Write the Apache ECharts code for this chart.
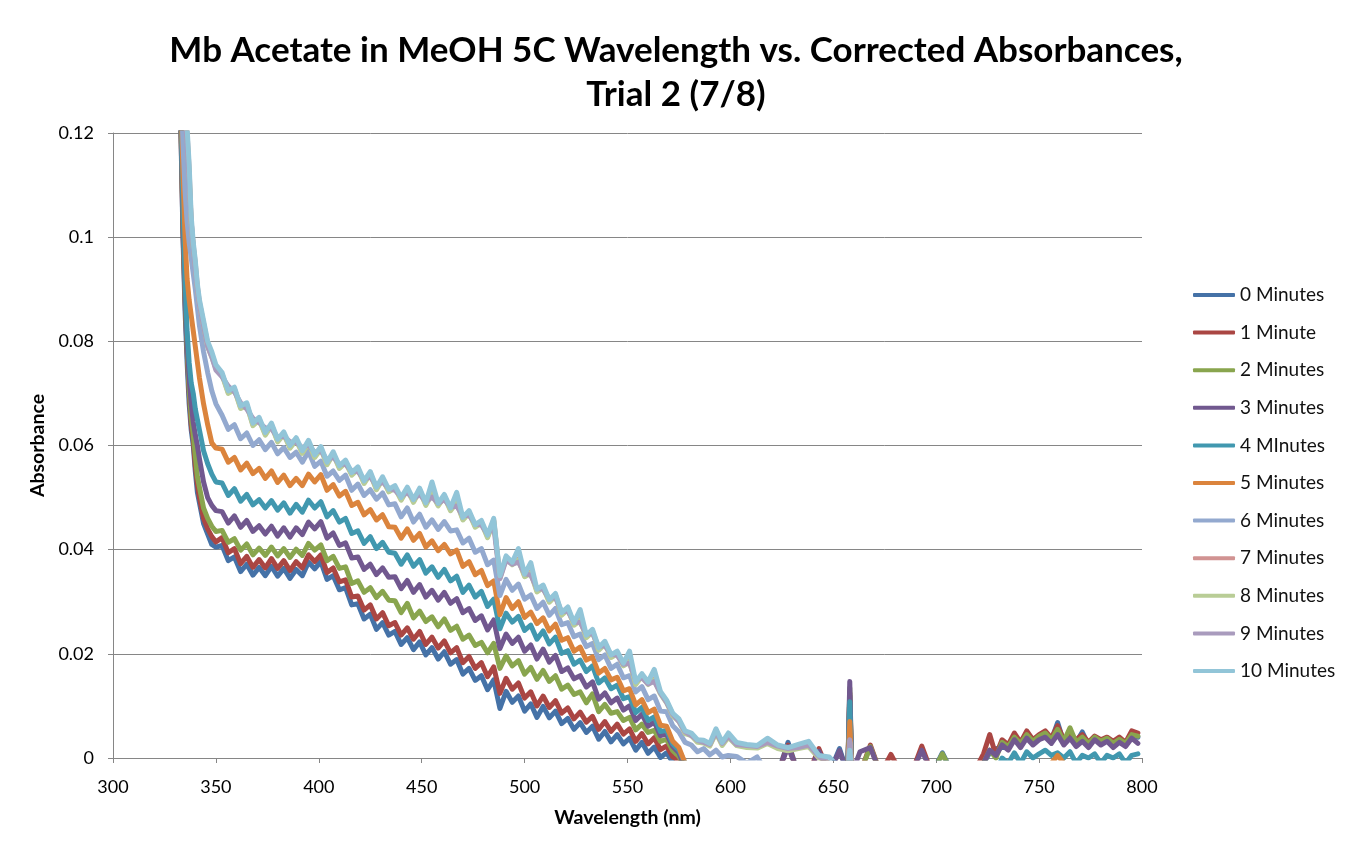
<!DOCTYPE html>
<html><head><meta charset="utf-8">
<script src="https://cdn.jsdelivr.net/npm/echarts@6/dist/echarts.min.js"></script>
<style>html,body{margin:0;padding:0;background:#fff}#c{width:1352px;height:855px}</style>
</head><body><div id="c"></div>
<script>
const titleText = 'Mb Acetate in MeOH 5C Wavelength vs. Corrected Absorbances,\nTrial 2 (7/8)';
const xName = 'Wavelength (nm)';
const yName = 'Absorbance';
const seriesNames = ['0 Minutes','1 Minute','2 Minutes','3 Minutes','4 MInutes','5 Minutes','6 Minutes','7 Minutes','8 Minutes','9 Minutes','10 Minutes'];
const colors = ['#4572A7','#AA4643','#89A54E','#71588F','#4198AF','#DB843D','#93A9CF','#D19392','#B9CD96','#A99BBD','#92C5D8'];

const wl = [332,333,334,335,336,337,338,339,340,341,342,344,346,348,350,
353,356,359,362,365,368,371,374,377,380,383,386,389,392,395,398,
401,404,407,410,413,416,419,422,425,428,431,434,437,440,443,446,449,
452,455,458,461,464,467,470,473,476,479,482,485,488,491,494,497,500,
503,506,509,512,515,518,521,524,527,530,533,536,539,542,545,548,551,
554,557,560,563,566,569,572,575,578,581,584,587,590,593,596,599,
603,608,613,618,623,628,633,638,643,648,653,657,658,659,
663,668,673,678,683,688,693,698,703,708,713,718,
723,726,729,732,735,738,741,744,747,750,753,756,759,762,765,768,771,774,777,780,783,786,789,792,795,798];

const s0 = [.135,.120,.100,.086,.076,.068,.063,.060,.055,.051,.049,.045,.043,.041,.0405,
.0408,.0379,.0386,.0358,.0372,.0351,.0366,.0350,.0368,.0349,.0364,.0345,.0362,.0350,.0376,.0363,
.0377,.0343,.0350,.0323,.0327,.0294,.0296,.0267,.0276,.0247,.0260,.0236,.0243,.0218,.0231,.0208,.0223,
.0198,.0212,.0190,.0204,.0180,.0189,.0161,.0172,.0149,.0158,.0131,.0150,.0095,.0128,.0107,.0119,.0090,
.0104,.0078,.0099,.0077,.0090,.0066,.0076,.0055,.0068,.0049,.0061,.0036,.0051,.0031,.0045,.0027,.0038,
.0015,.0030,.0009,.0021,.0001,.0010,-.0008,-.002,-.003,-.003,-.003,-.003,-.003,-.003,-.003,-.003,
-.003,-.003,-.003,-.003,-.003,.003,-.003,-.003,-.003,-.003,.0018,-.003,.012,-.003,
-.003,-.003,-.003,-.003,-.003,-.003,-.003,-.003,.001,-.003,-.003,-.003,
-.001,.001,.0018,.002,.002,.0038,.0025,.005,.003,.004,.005,.0035,.0068,.003,.004,.003,.005,.0025,.004,.003,.0035,.003,.0035,.0025,.0045,.004];

const s1 = [.135,.121,.101,.088,.078,.070,.064,.061,.056,.0525,.050,.046,.044,.0425,.0415,
.0423,.0394,.0402,.0373,.0387,.0366,.0381,.0365,.0383,.0364,.0379,.0360,.0377,.0365,.0390,.0377,
.0390,.0356,.0365,.0338,.0342,.0309,.0311,.0284,.0294,.0267,.0279,.0254,.0260,.0236,.0250,.0228,.0243,
.0218,.0232,.0211,.0225,.0202,.0212,.0183,.0195,.0172,.0183,.0156,.0175,.0124,.0153,.0132,.0144,.0115,
.0127,.0100,.0119,.0097,.0110,.0086,.0096,.0075,.0088,.0069,.0080,.0055,.0070,.0051,.0065,.0046,.0056,
.0032,.0047,.0027,.0039,.0016,.0023,.0002,-.0005,-.002,-.003,-.003,-.003,-.003,-.003,-.003,-.003,
-.003,-.003,-.003,-.003,-.003,.0025,-.003,-.003,.0018,-.003,-.003,-.003,.0125,-.003,
-.003,.0025,-.003,.0007,-.003,-.003,.0023,-.003,-.003,-.003,-.003,-.003,
.0008,.0045,.0005,.0035,.0025,.0048,.003,.0052,.0035,.0045,.0052,.0038,.0062,.0035,.0045,.0035,.0045,.003,.0042,.0035,.004,.0032,.004,.003,.0052,.0048];

const s2 = [.136,.122,.103,.089,.079,.071,.0655,.062,.058,.054,.052,.048,.046,.0445,.0435,
.0437,.0414,.0421,.0399,.0411,.0390,.0403,.0389,.0405,.0388,.0402,.0385,.0401,.0389,.0412,.0399,
.0409,.0379,.0387,.0364,.0367,.0335,.0340,.0318,.0327,.0308,.0320,.0303,.0302,.0279,.0297,.0269,.0282,
.0262,.0271,.0252,.0267,.0245,.0253,.0228,.0236,.0216,.0222,.0202,.0220,.0172,.0196,.0177,.0187,.0161,
.0174,.0151,.0168,.0147,.0158,.0132,.0140,.0122,.0127,.0106,.0123,.0089,.0103,.0086,.0089,.0072,.0078,
.0054,.0065,.0049,.0053,.0032,.0036,.0014,.0003,-.002,-.003,-.003,-.003,-.003,-.003,-.003,-.003,
-.003,-.003,-.003,-.003,-.003,-.003,-.003,-.003,-.003,-.003,-.003,-.003,.0135,-.003,
-.003,.0022,-.003,-.003,-.003,-.003,-.003,-.003,.0008,-.003,-.003,-.003,
-.001,.0015,0,.003,.0022,.004,.0028,.0045,.0032,.0042,.0048,.0035,.0055,.0032,.0058,.003,.004,.0028,.004,.0032,.0038,.0028,.0036,.0028,.0045,.0042];

const s3 = [.137,.123,.104,.090,.080,.073,.068,.0645,.062,.060,.0575,.053,.050,.0485,.0475,
.0473,.0451,.0465,.0443,.0456,.0435,.0446,.0430,.0445,.0426,.0442,.0424,.0442,.0429,.0453,.0440,
.0454,.0422,.0432,.0408,.0413,.0384,.0386,.0362,.0372,.0352,.0365,.0347,.0348,.0325,.0341,.0318,.0333,
.0309,.0322,.0303,.0318,.0297,.0306,.0279,.0287,.0264,.0273,.0246,.0265,.0210,.0238,.0220,.0232,.0205,
.0217,.0190,.0209,.0184,.0197,.0166,.0173,.0152,.0158,.0136,.0146,.0113,.0125,.0106,.0115,.0092,.0100,
.0072,.0084,.0061,.0069,.0043,.0046,.0022,.0010,-.002,-.003,-.003,-.003,-.003,-.003,-.003,-.003,
-.003,-.003,-.003,-.003,-.003,.0022,-.003,-.003,.0013,-.003,.0014,-.003,.0147,-.003,
.0012,.002,-.003,-.003,-.003,-.003,.0015,-.003,-.003,-.003,-.003,-.003,
-.001,.0015,.0005,.0025,.0015,.0035,.002,.0038,.0025,.0035,.004,.0028,.0045,.0025,.0038,.0022,.0032,.002,.0035,.0025,.0032,.002,.003,.0022,.0038,.0028];

const s4 = [.138,.124,.106,.092,.082,.076,.072,.070,.067,.065,.063,.059,.0565,.0545,.053,
.0528,.0504,.0517,.0493,.0506,.0486,.0496,.0480,.0494,.0476,.0490,.0470,.0487,.0472,.0495,.0480,
.0492,.0463,.0475,.0453,.0460,.0431,.0436,.0412,.0425,.0402,.0414,.0395,.0393,.0372,.0390,.0368,.0381,
.0355,.0367,.0347,.0362,.0340,.0349,.0318,.0332,.0309,.0320,.0291,.0305,.0248,.0278,.0261,.0272,.0245,
.0255,.0228,.0244,.0219,.0232,.0201,.0206,.0180,.0188,.0166,.0177,.0144,.0154,.0133,.0140,.0114,.0118,
.0087,.0097,.0072,.0079,.0051,.0053,.0027,.0015,-.001,-.003,-.003,-.003,-.003,-.003,-.003,-.003,
-.003,-.003,-.003,-.003,-.003,-.003,-.003,-.003,-.003,-.003,-.003,-.003,.0108,-.003,
-.003,-.003,-.003,-.003,-.003,-.003,-.003,-.003,-.003,-.003,-.003,-.003,
-.003,-.003,-.003,0,-.001,.001,-.001,.0012,0,.0008,.0015,.0005,.001,0,.0012,-.001,.0005,0,.0008,-.001,.0005,0,.0008,-.001,.0005,.0008];

const s5 = [.140,.127,.112,.100,.092,.088,.085,.082,.079,.076,.073,.068,.064,.0605,.0595,
.0593,.0568,.0577,.0553,.0566,.0546,.0556,.0537,.0551,.0529,.0543,.0523,.0537,.0523,.0545,.0530,
.0544,.0514,.0525,.0503,.0512,.0485,.0491,.0467,.0477,.0457,.0467,.0444,.0443,.0422,.0440,.0418,.0431,
.0405,.0417,.0398,.0410,.0392,.0399,.0368,.0377,.0352,.0360,.0331,.0340,.0275,.0308,.0287,.0300,.0270,
.0280,.0258,.0269,.0244,.0257,.0226,.0231,.0205,.0213,.0188,.0194,.0163,.0172,.0150,.0155,.0129,.0133,
.0102,.0112,.0087,.0094,.0063,.0061,.0032,.0020,-.001,-.003,-.003,-.003,-.003,-.003,-.003,-.003,
-.003,-.003,-.003,-.003,-.003,-.003,-.003,-.003,-.003,-.003,-.003,-.003,.007,-.003,
-.003,-.003,-.003,-.003,-.003,-.003,-.003,-.003,-.003,-.003,-.003,-.003,
-.003,-.003,-.003,-.003,-.003,-.003,-.003,-.003,-.003,-.003,-.003,-.001,.0005,-.001,-.003,-.003,-.003,-.003,-.003,-.003,-.003,-.003,-.003,-.003,-.003,-.003];

const s6 = [.142,.130,.118,.109,.103,.099,.096,.093,.090,.0865,.083,.078,.074,.0705,.068,
.0658,.0631,.0640,.0613,.0624,.0600,.0611,.0592,.0606,.0584,.0596,.0577,.0587,.0568,.0589,.0560,
.0570,.0541,.0551,.0533,.0543,.0514,.0526,.0504,.0515,.0497,.0509,.0486,.0488,.0463,.0480,.0453,.0468,
.0443,.0457,.0439,.0454,.0436,.0438,.0413,.0422,.0395,.0402,.0371,.0380,.0312,.0343,.0322,.0334,.0305,
.0313,.0287,.0299,.0274,.0287,.0256,.0260,.0233,.0238,.0214,.0220,.0189,.0198,.0172,.0180,.0154,.0158,
.0127,.0137,.0112,.0119,.0090,.0089,.0062,.0050,.0030,.0025,.0012,.0018,.0006,.0015,.0002,.0005,
.0003,-.001,.0002,-.003,-.003,-.003,-.003,-.003,-.003,-.003,-.003,-.003,.003,-.003,
-.003,-.003,-.003,-.003,-.003,-.003,-.003,-.003,-.003,-.003,-.003,-.003,
-.003,-.003,-.003,-.003,-.003,-.003,-.003,-.003,-.003,-.003,-.003,-.003,-.003,-.003,-.003,-.003,-.003,-.003,-.003,-.003,-.003,-.003,-.003,-.003,-.003,-.003];

const s7 = [.149,.139,.131,.125,.120,.113,.103,.0985,.095,.0905,.0875,.0835,.0795,.0775,.075,
.0737,.0702,.0709,.0673,.0679,.0640,.0651,.0622,.0640,.0609,.0623,.0597,.0612,.0587,.0607,.0579,
.0595,.0565,.0585,.0558,.0569,.0545,.0556,.0529,.0547,.0517,.0537,.0513,.0520,.0497,.0517,.0493,.0515,
.0487,.0509,.0486,.0503,.0477,.0492,.0459,.0472,.0445,.0453,.0425,.0457,.0347,.0385,.0373,.0382,.0350,
.0357,.0321,.0329,.0301,.0313,.0276,.0287,.0257,.0266,.0233,.0244,.0209,.0221,.0195,.0202,.0179,.0187,
.0143,.0159,.0143,.0152,.0125,.0108,.0083,.0072,.0049,.0045,.0032,.0031,.0025,.0050,.0026,.0043,
.0025,.0022,.0020,.0030,.0020,.0015,.0020,.0025,.0002,-.001,-.003,-.003,.003,-.003,
-.003,-.003,-.003,-.003,-.003,-.003,-.003,-.003,-.003,-.003,-.003,-.003,
-.003,-.003,-.003,-.003,-.003,-.003,-.003,-.003,-.003,-.003,-.003,-.003,-.003,-.003,-.003,-.003,-.003,-.003,-.003,-.003,-.003,-.003,-.003,-.003,-.003,-.003];

const s8 = [.148,.138,.130,.124,.119,.112,.1025,.098,.0945,.090,.087,.083,.079,.077,.0748,
.0735,.0700,.0707,.0671,.0677,.0638,.0649,.0620,.0638,.0607,.0621,.0595,.0610,.0585,.0605,.0577,
.0593,.0563,.0583,.0556,.0567,.0543,.0554,.0527,.0545,.0515,.0535,.0511,.0518,.0495,.0515,.0491,.0513,
.0485,.0507,.0484,.0501,.0475,.0490,.0457,.0470,.0443,.0451,.0423,.0455,.0345,.0383,.0371,.0380,.0348,
.0355,.0319,.0327,.0299,.0311,.0274,.0285,.0255,.0264,.0231,.0242,.0207,.0219,.0193,.0200,.0177,.0185,
.0141,.0157,.0141,.0150,.0123,.0106,.0081,.0070,.0047,.0043,.0030,.0029,.0023,.0048,.0024,.0040,
.0024,.0020,.0019,.0028,.0018,.0014,.0018,.0022,0,-.001,-.003,-.003,.0032,-.003,
-.003,-.003,-.003,-.003,-.003,-.003,-.003,-.003,-.003,-.003,-.003,-.003,
-.003,-.003,-.003,-.003,-.003,-.003,-.003,-.003,-.003,-.003,-.003,-.003,-.003,-.003,-.003,-.003,-.003,-.003,-.003,-.003,-.003,-.003,-.003,-.003,-.003,-.003];

const s9 = [.149,.139,.131,.124,.118,.111,.103,.098,.094,.090,.087,.083,.079,.077,.0745,
.0732,.0714,.0703,.0682,.0670,.0652,.0644,.0634,.0632,.0616,.0618,.0607,.0606,.0596,.0601,.0587,
.0590,.0572,.0578,.0564,.0564,.0551,.0550,.0535,.0540,.0523,.0530,.0518,.0514,.0502,.0510,.0498,.0506,
.0492,.0501,.0489,.0496,.0482,.0484,.0465,.0466,.0450,.0447,.0430,.0445,.0344,.0380,.0372,.0376,.0354,
.0351,.0326,.0324,.0306,.0308,.0281,.0282,.0261,.0260,.0238,.0239,.0214,.0216,.0199,.0197,.0180,.0182,
.0149,.0154,.0142,.0147,.0125,.0107,.0084,.0070,.0050,.0043,.0034,.0030,.0026,.0050,.0028,.0042,
.0026,.0024,.0022,.0030,.0023,.0018,.0020,.0025,.0003,-.001,-.003,-.003,.0035,-.003,
-.003,-.003,-.003,-.003,-.003,-.003,-.003,-.003,-.003,-.003,-.003,-.003,
-.003,-.003,-.003,-.003,-.003,-.003,-.003,-.003,-.003,-.003,-.003,-.003,-.003,-.003,-.003,-.003,-.003,-.003,-.003,-.003,-.003,-.003,-.003,-.003,-.003,-.003];

const s10 = [.150,.140,.132,.126,.121,.114,.104,.099,.0955,.091,.088,.084,.080,.078,.0755,
.0740,.0705,.0712,.0676,.0682,.0643,.0654,.0625,.0643,.0612,.0626,.0600,.0615,.0590,.0610,.0582,
.0598,.0568,.0588,.0561,.0572,.0548,.0559,.0532,.0550,.0520,.0540,.0516,.0523,.0500,.0520,.0496,.0518,
.0490,.0530,.0489,.0506,.0480,.0510,.0462,.0475,.0448,.0456,.0428,.0460,.0350,.0388,.0376,.0402,.0353,
.0375,.0324,.0332,.0304,.0316,.0279,.0290,.0260,.0285,.0236,.0247,.0212,.0224,.0198,.0205,.0182,.0205,
.0146,.0162,.0146,.0170,.0128,.0111,.0086,.0075,.0052,.0048,.0035,.0034,.0028,.0056,.0030,.0048,
.0030,.0026,.0024,.0038,.0025,.0020,.0026,.0032,.0005,.0002,-.002,-.003,.0015,-.003,
-.003,-.003,-.003,-.003,-.003,-.003,-.003,-.003,-.003,-.003,-.003,-.003,
-.003,-.003,-.003,-.003,-.003,-.003,-.003,-.003,-.003,-.003,-.003,-.003,-.003,-.003,-.003,-.003,-.003,-.003,-.003,-.003,-.003,-.003,-.003,-.003,-.003,-.003];

const allSeries = [s0,s1,s2,s3,s4,s5,s6,s7,s8,s9,s10];
const yTicks = {min: 0, max: 0.12, interval: 0.02};
const xTicks = {min: 300, max: 800, interval: 50};

const FONT = 'Lato, "Open Sans", sans-serif';
const chart = echarts.init(document.getElementById('c'), null, {renderer: 'canvas'});
chart.setOption({
  animation: false,
  backgroundColor: '#ffffff',
  title: {
    text: titleText, left: 'center', top: 24,
    textStyle: {fontFamily: FONT, fontWeight: 'bold', fontSize: 35, lineHeight: 44, color: '#000'}
  },
  legend: {
    orient: 'vertical', left: 1188, top: 280,
    itemWidth: 42, itemHeight: 4, itemGap: 17.6, icon: 'roundRect',
    data: seriesNames,
    textStyle: {fontFamily: FONT, fontSize: 19, lineHeight: 20, color: '#111'}
  },
  grid: {left: 113, right: 210, top: 133, bottom: 97, containLabel: false},
  xAxis: {
    type: 'value', min: xTicks.min, max: xTicks.max, interval: xTicks.interval,
    name: xName, nameLocation: 'middle', nameGap: 50,
    nameTextStyle: {fontFamily: FONT, fontWeight: 'bold', fontSize: 19.5, color: '#000'},
    axisLine: {show: true, lineStyle: {color: '#868686', width: 1}},
    axisTick: {show: true, length: 5, lineStyle: {color: '#868686'}},
    axisLabel: {fontFamily: FONT, fontSize: 18, color: '#000', margin: 20},
    splitLine: {show: false}
  },
  yAxis: {
    type: 'value', min: yTicks.min, max: yTicks.max, interval: yTicks.interval,
    name: yName, nameLocation: 'middle', nameGap: 62, nameRotate: 90,
    nameTextStyle: {fontFamily: FONT, fontWeight: 'bold', fontSize: 19.5, color: '#000'},
    axisLine: {show: true, lineStyle: {color: '#868686', width: 1}},
    axisTick: {show: true, length: 5, lineStyle: {color: '#868686'}},
    axisLabel: {fontFamily: FONT, fontSize: 18, color: '#000', margin: 19},
    splitLine: {show: true, lineStyle: {color: '#868686', width: 1}}
  },
  series: allSeries.map((vals, k) => ({
    name: seriesNames[k], type: 'line', showSymbol: false, symbol: 'none', clip: true,
    color: colors[k],
    lineStyle: {color: colors[k], width: 5, cap: 'round', join: 'round'},
    data: wl.map((x, i) => [x, vals[i]])
  }))
});
</script></body></html>
